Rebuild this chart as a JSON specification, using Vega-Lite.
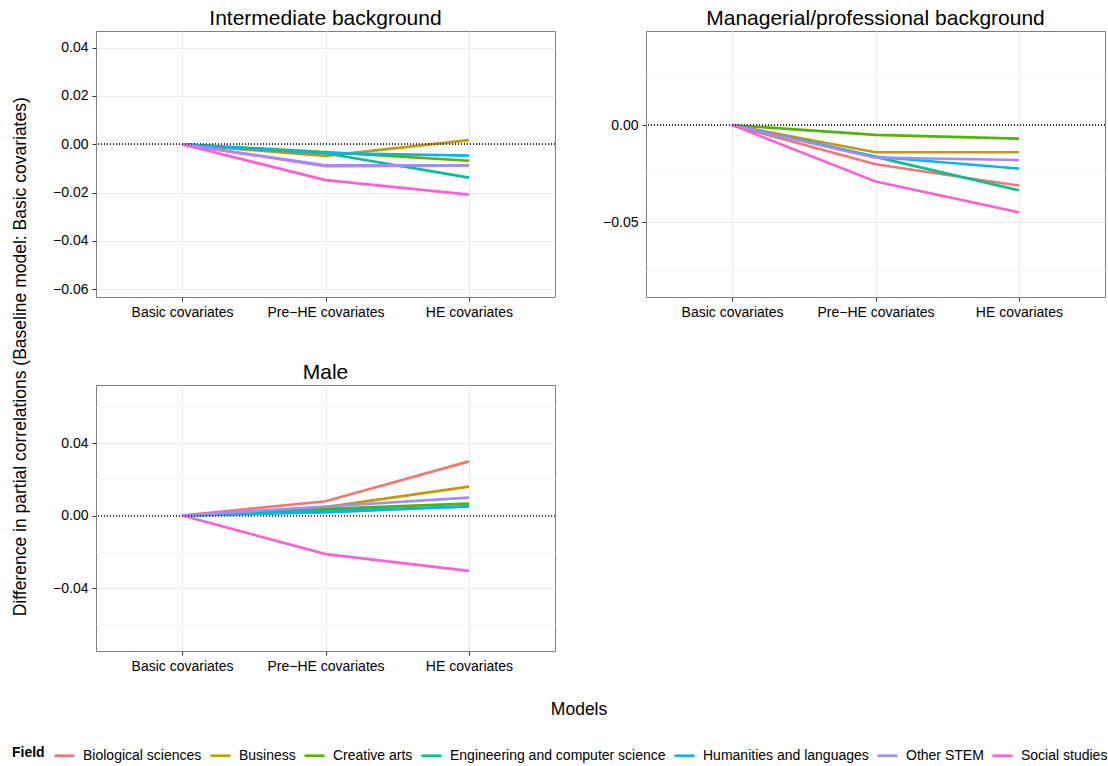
{
  "$schema": "https://vega.github.io/schema/vega-lite/v6.json",
  "background": "white",
  "padding": {"left": 11, "top": 7, "right": 0, "bottom": 0},
  "config": {
    "font": "Liberation Sans",
    "view": {"stroke": "#7f7f7f", "strokeWidth": 1},
    "axis": {"labelFontSize": 14, "labelColor": "#000000", "tickColor": "#333333", "tickSize": 4, "domain": false, "gridColor": "#ebebeb", "gridWidth": 1, "labelPadding": 4},
    "title": {"fontWeight": "normal", "color": "#000000"},
    "line": {"strokeWidth": 2.7}
  },
  "data": {"name": "corr"},
  "datasets": {
    "corr": [
      {"panel": "Intermediate background", "model": "Basic covariates", "field": "Biological sciences", "diff": 0},
      {"panel": "Intermediate background", "model": "Pre−HE covariates", "field": "Biological sciences", "diff": -0.009},
      {"panel": "Intermediate background", "model": "HE covariates", "field": "Biological sciences", "diff": -0.0088},
      {"panel": "Intermediate background", "model": "Basic covariates", "field": "Business", "diff": 0},
      {"panel": "Intermediate background", "model": "Pre−HE covariates", "field": "Business", "diff": -0.0048},
      {"panel": "Intermediate background", "model": "HE covariates", "field": "Business", "diff": 0.0017},
      {"panel": "Intermediate background", "model": "Basic covariates", "field": "Creative arts", "diff": 0},
      {"panel": "Intermediate background", "model": "Pre−HE covariates", "field": "Creative arts", "diff": -0.0032},
      {"panel": "Intermediate background", "model": "HE covariates", "field": "Creative arts", "diff": -0.0068},
      {"panel": "Intermediate background", "model": "Basic covariates", "field": "Engineering and computer science", "diff": 0},
      {"panel": "Intermediate background", "model": "Pre−HE covariates", "field": "Engineering and computer science", "diff": -0.0037},
      {"panel": "Intermediate background", "model": "HE covariates", "field": "Engineering and computer science", "diff": -0.0138},
      {"panel": "Intermediate background", "model": "Basic covariates", "field": "Humanities and languages", "diff": 0},
      {"panel": "Intermediate background", "model": "Pre−HE covariates", "field": "Humanities and languages", "diff": -0.0036},
      {"panel": "Intermediate background", "model": "HE covariates", "field": "Humanities and languages", "diff": -0.0047},
      {"panel": "Intermediate background", "model": "Basic covariates", "field": "Other STEM", "diff": 0},
      {"panel": "Intermediate background", "model": "Pre−HE covariates", "field": "Other STEM", "diff": -0.0087},
      {"panel": "Intermediate background", "model": "HE covariates", "field": "Other STEM", "diff": -0.0087},
      {"panel": "Intermediate background", "model": "Basic covariates", "field": "Social studies", "diff": 0},
      {"panel": "Intermediate background", "model": "Pre−HE covariates", "field": "Social studies", "diff": -0.0148},
      {"panel": "Intermediate background", "model": "HE covariates", "field": "Social studies", "diff": -0.0208},

      {"panel": "Managerial/professional background", "model": "Basic covariates", "field": "Biological sciences", "diff": 0},
      {"panel": "Managerial/professional background", "model": "Pre−HE covariates", "field": "Biological sciences", "diff": -0.0202},
      {"panel": "Managerial/professional background", "model": "HE covariates", "field": "Biological sciences", "diff": -0.0312},
      {"panel": "Managerial/professional background", "model": "Basic covariates", "field": "Business", "diff": 0},
      {"panel": "Managerial/professional background", "model": "Pre−HE covariates", "field": "Business", "diff": -0.014},
      {"panel": "Managerial/professional background", "model": "HE covariates", "field": "Business", "diff": -0.014},
      {"panel": "Managerial/professional background", "model": "Basic covariates", "field": "Creative arts", "diff": 0},
      {"panel": "Managerial/professional background", "model": "Pre−HE covariates", "field": "Creative arts", "diff": -0.005},
      {"panel": "Managerial/professional background", "model": "HE covariates", "field": "Creative arts", "diff": -0.007},
      {"panel": "Managerial/professional background", "model": "Basic covariates", "field": "Engineering and computer science", "diff": 0},
      {"panel": "Managerial/professional background", "model": "Pre−HE covariates", "field": "Engineering and computer science", "diff": -0.0164},
      {"panel": "Managerial/professional background", "model": "HE covariates", "field": "Engineering and computer science", "diff": -0.0336},
      {"panel": "Managerial/professional background", "model": "Basic covariates", "field": "Humanities and languages", "diff": 0},
      {"panel": "Managerial/professional background", "model": "Pre−HE covariates", "field": "Humanities and languages", "diff": -0.0163},
      {"panel": "Managerial/professional background", "model": "HE covariates", "field": "Humanities and languages", "diff": -0.0224},
      {"panel": "Managerial/professional background", "model": "Basic covariates", "field": "Other STEM", "diff": 0},
      {"panel": "Managerial/professional background", "model": "Pre−HE covariates", "field": "Other STEM", "diff": -0.0168},
      {"panel": "Managerial/professional background", "model": "HE covariates", "field": "Other STEM", "diff": -0.018},
      {"panel": "Managerial/professional background", "model": "Basic covariates", "field": "Social studies", "diff": 0},
      {"panel": "Managerial/professional background", "model": "Pre−HE covariates", "field": "Social studies", "diff": -0.0291},
      {"panel": "Managerial/professional background", "model": "HE covariates", "field": "Social studies", "diff": -0.045},

      {"panel": "Male", "model": "Basic covariates", "field": "Biological sciences", "diff": 0},
      {"panel": "Male", "model": "Pre−HE covariates", "field": "Biological sciences", "diff": 0.0079},
      {"panel": "Male", "model": "HE covariates", "field": "Biological sciences", "diff": 0.0299},
      {"panel": "Male", "model": "Basic covariates", "field": "Business", "diff": 0},
      {"panel": "Male", "model": "Pre−HE covariates", "field": "Business", "diff": 0.0046},
      {"panel": "Male", "model": "HE covariates", "field": "Business", "diff": 0.016},
      {"panel": "Male", "model": "Basic covariates", "field": "Creative arts", "diff": 0},
      {"panel": "Male", "model": "Pre−HE covariates", "field": "Creative arts", "diff": 0.0037},
      {"panel": "Male", "model": "HE covariates", "field": "Creative arts", "diff": 0.0066},
      {"panel": "Male", "model": "Basic covariates", "field": "Engineering and computer science", "diff": 0},
      {"panel": "Male", "model": "Pre−HE covariates", "field": "Engineering and computer science", "diff": 0.0028},
      {"panel": "Male", "model": "HE covariates", "field": "Engineering and computer science", "diff": 0.005},
      {"panel": "Male", "model": "Basic covariates", "field": "Humanities and languages", "diff": 0},
      {"panel": "Male", "model": "Pre−HE covariates", "field": "Humanities and languages", "diff": 0.0018},
      {"panel": "Male", "model": "HE covariates", "field": "Humanities and languages", "diff": 0.0051},
      {"panel": "Male", "model": "Basic covariates", "field": "Other STEM", "diff": 0},
      {"panel": "Male", "model": "Pre−HE covariates", "field": "Other STEM", "diff": 0.005},
      {"panel": "Male", "model": "HE covariates", "field": "Other STEM", "diff": 0.0099},
      {"panel": "Male", "model": "Basic covariates", "field": "Social studies", "diff": 0},
      {"panel": "Male", "model": "Pre−HE covariates", "field": "Social studies", "diff": -0.0213},
      {"panel": "Male", "model": "HE covariates", "field": "Social studies", "diff": -0.0305}
    ]
  },
  "vconcat": [
    {
      "title": {"text": "Difference in partial correlations (Baseline model: Basic covariates)", "orient": "left", "anchor": "middle", "fontSize": 17.5, "offset": 23, "dx": 6},
      "vconcat": [
        {
          "title": {"text": "Models", "orient": "bottom", "anchor": "middle", "fontSize": 17.5, "offset": 27},
          "spacing": 41,
          "vconcat": [
            {
              "spacing": 46,
              "hconcat": [
                {
                  "title": {"text": "Intermediate background", "fontSize": 21, "offset": 2},
                  "width": 459,
                  "height": 266,
                  "transform": [{"filter": {"field": "panel", "equal": "Intermediate background"}}],
                  "layer": [
                    {
                      "mark": {"type": "line", "strokeWidth": 2.7},
                      "encoding": {
                        "x": {"field": "model", "type": "ordinal", "sort": ["Basic covariates", "Pre−HE covariates", "HE covariates"], "scale": {"type": "point", "padding": 0.6}, "axis": {"title": null, "labelAngle": 0, "grid": true}},
                        "y": {"field": "diff", "type": "quantitative", "scale": {"domain": [-0.0632, 0.0469], "nice": false, "zero": false},
                          "axis": {"title": null, "values": [-0.06, -0.05, -0.04, -0.03, -0.02, -0.01, 0, 0.01, 0.02, 0.03, 0.04], "format": ".2f",
                            "labelExpr": "abs(round(datum.value*100)) % 2 == 1 ? '' : datum.label",
                            "gridColor": {"condition": {"test": "abs(round(datum.value*100)) % 2 == 1", "value": "#f7f7f7"}, "value": "#ebebeb"},
                            "tickOpacity": {"condition": {"test": "abs(round(datum.value*100)) % 2 == 1", "value": 0}, "value": 1}}},
                        "color": {"field": "field", "type": "nominal", "scale": {"domain": ["Biological sciences", "Business", "Creative arts", "Engineering and computer science", "Humanities and languages", "Other STEM", "Social studies"], "range": ["#F8766D", "#C49A00", "#53B400", "#00C094", "#00B6EB", "#A58AFF", "#FB61D7"]},
                          "legend": {"title": "Field", "orient": "none", "legendX": -84, "legendY": 713, "direction": "horizontal", "titleOrient": "left", "titleAnchor": "middle", "titleBaseline": "middle", "titleFontSize": 14, "titleFontWeight": "bold", "titleColor": "#000000", "labelFontSize": 14, "labelColor": "#000000", "labelLimit": 0, "symbolType": "stroke", "symbolStrokeWidth": 3, "symbolSize": 400, "labelOffset": 7, "columnPadding": 3, "titlePadding": 8}}
                      }
                    },
                    {
                      "mark": {"type": "rule", "strokeDash": [1, 2], "color": "#333333", "strokeWidth": 1},
                      "encoding": {"y": {"datum": 0, "type": "quantitative"}}
                    }
                  ]
                },
                {
                  "title": {"text": "Managerial/professional background", "fontSize": 21, "offset": 2},
                  "width": 459,
                  "height": 266,
                  "transform": [{"filter": {"field": "panel", "equal": "Managerial/professional background"}}],
                  "layer": [
                    {
                      "mark": {"type": "line", "strokeWidth": 2.7},
                      "encoding": {
                        "x": {"field": "model", "type": "ordinal", "sort": ["Basic covariates", "Pre−HE covariates", "HE covariates"], "scale": {"type": "point", "padding": 0.6}, "axis": {"title": null, "labelAngle": 0, "grid": true}},
                        "y": {"field": "diff", "type": "quantitative", "scale": {"domain": [-0.0886, 0.0485], "nice": false, "zero": false},
                          "axis": {"title": null, "values": [-0.075, -0.05, -0.025, 0, 0.025], "format": ".2f",
                            "labelExpr": "abs(round(datum.value*1000)) % 50 != 0 ? '' : datum.label",
                            "gridColor": {"condition": {"test": "abs(round(datum.value*1000)) % 50 != 0", "value": "#f7f7f7"}, "value": "#ebebeb"},
                            "tickOpacity": {"condition": {"test": "abs(round(datum.value*1000)) % 50 != 0", "value": 0}, "value": 1}}},
                        "color": {"field": "field", "type": "nominal", "scale": {"domain": ["Biological sciences", "Business", "Creative arts", "Engineering and computer science", "Humanities and languages", "Other STEM", "Social studies"], "range": ["#F8766D", "#C49A00", "#53B400", "#00C094", "#00B6EB", "#A58AFF", "#FB61D7"]}}
                      }
                    },
                    {
                      "mark": {"type": "rule", "strokeDash": [1, 2], "color": "#333333", "strokeWidth": 1},
                      "encoding": {"y": {"datum": 0, "type": "quantitative"}}
                    }
                  ]
                }
              ]
            },
            {
              "hconcat": [
                {
                  "title": {"text": "Male", "fontSize": 21, "offset": 2},
                  "width": 459,
                  "height": 266,
                  "transform": [{"filter": {"field": "panel", "equal": "Male"}}],
                  "layer": [
                    {
                      "mark": {"type": "line", "strokeWidth": 2.7},
                      "encoding": {
                        "x": {"field": "model", "type": "ordinal", "sort": ["Basic covariates", "Pre−HE covariates", "HE covariates"], "scale": {"type": "point", "padding": 0.6}, "axis": {"title": null, "labelAngle": 0, "grid": true}},
                        "y": {"field": "diff", "type": "quantitative", "scale": {"domain": [-0.0747, 0.072], "nice": false, "zero": false},
                          "axis": {"title": null, "values": [-0.06, -0.04, -0.02, 0, 0.02, 0.04, 0.06], "format": ".2f",
                            "labelExpr": "abs(round(datum.value*100)) % 4 != 0 ? '' : datum.label",
                            "gridColor": {"condition": {"test": "abs(round(datum.value*100)) % 4 != 0", "value": "#f7f7f7"}, "value": "#ebebeb"},
                            "tickOpacity": {"condition": {"test": "abs(round(datum.value*100)) % 4 != 0", "value": 0}, "value": 1}}},
                        "color": {"field": "field", "type": "nominal", "scale": {"domain": ["Biological sciences", "Business", "Creative arts", "Engineering and computer science", "Humanities and languages", "Other STEM", "Social studies"], "range": ["#F8766D", "#C49A00", "#53B400", "#00C094", "#00B6EB", "#A58AFF", "#FB61D7"]}}
                      }
                    },
                    {
                      "mark": {"type": "rule", "strokeDash": [1, 2], "color": "#333333", "strokeWidth": 1},
                      "encoding": {"y": {"datum": 0, "type": "quantitative"}}
                    }
                  ]
                }
              ]
            }
          ]
        }
      ]
    }
  ]
}
